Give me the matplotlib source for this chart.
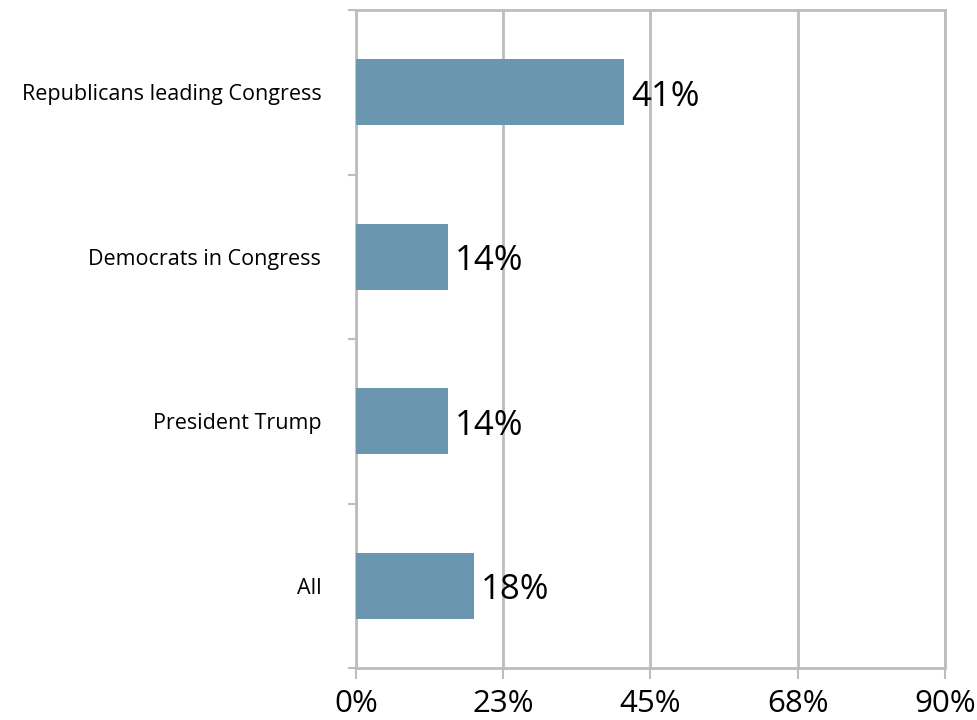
import numpy as np
import matplotlib.pyplot as plt

categories = ['All', 'President Trump', 'Democrats in Congress', 'Republicans leading Congress']
values = [18, 14, 14, 41]
xticks = [0, 22.5, 45, 67.5, 90]
xtick_labels = ['0%', '23%', '45%', '68%', '90%']

plt.rcParams['font.family'] = ['Open Sans', 'DejaVu Sans']

fig = plt.figure(figsize=(9.78, 7.2), dpi=100)
ax = fig.add_axes([0.364, 0.072, 0.602, 0.914])

grid = '#bdbdbd'
y = np.arange(len(categories))
ax.barh(y, values, height=0.4, color='#6a96b0', zorder=3)

# value labels just past the bar ends
for yi, v in zip(y, values):
    ax.annotate(f'{v}%', (v, yi), xytext=(5, -3), textcoords='offset points',
                va='center', ha='left', fontsize=25, zorder=4)

ax.set_xlim(0, 90)
ax.set_ylim(-0.5, len(categories) - 0.5)
ax.set_xticks(xticks)
ax.set_xticklabels(xtick_labels, fontsize=22.5)
ax.set_yticks(y)
ax.set_yticklabels(categories, fontsize=15.5)
ax.set_yticks(np.arange(-0.5, len(categories)), minor=True)

ax.xaxis.grid(True, color=grid, linewidth=2, zorder=0)
ax.tick_params(axis='y', which='major', length=0, pad=25)
ax.tick_params(axis='y', which='minor', length=6, width=1.5, color=grid)
ax.tick_params(axis='x', length=8, width=1.5, color=grid, pad=7)

for s in ax.spines.values():
    s.set_color(grid)
    s.set_linewidth(2)

fig.savefig('out.png', dpi=100)
